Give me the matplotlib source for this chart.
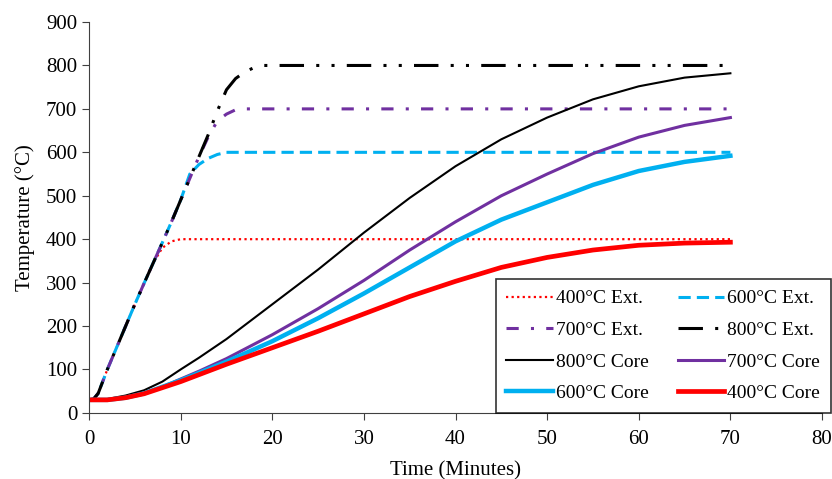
import matplotlib
matplotlib.use('Agg')
import matplotlib.pyplot as plt

# surface (Ext.) curves
t_ext = [0, 0.5, 1, 2, 3, 4, 5, 6, 7, 8, 9, 10, 11, 12, 13, 14, 15, 16, 17, 18, 19, 20, 70]
ext_400 = [30, 32, 45, 100, 150, 200, 250, 298, 345, 380, 395, 400, 400, 400, 400, 400, 400, 400, 400, 400, 400, 400, 400]
ext_600 = [30, 32, 45, 100, 150, 200, 250, 298, 345, 392, 440, 490, 550, 572, 586, 595, 600, 600, 600, 600, 600, 600, 600]
ext_700 = [30, 32, 45, 100, 150, 200, 250, 298, 345, 392, 440, 490, 540, 590, 635, 672, 688, 698, 700, 700, 700, 700, 700]
ext_800 = [30, 32, 45, 100, 150, 200, 250, 298, 345, 392, 440, 490, 540, 590, 640, 695, 744, 770, 785, 795, 800, 800, 800]

# core curves
t_core = [0, 2, 4, 6, 8, 10, 12, 15, 20, 25, 30, 35, 40, 45, 50, 55, 60, 65, 70]
core_800 = [30, 32, 40, 52, 72, 100, 127, 170, 250, 330, 415, 495, 568, 630, 680, 722, 752, 772, 782]
core_700 = [30, 30, 35, 45, 60, 78, 96, 125, 180, 240, 305, 375, 440, 500, 550, 597, 635, 662, 680]
core_600 = [30, 30, 35, 45, 60, 75, 92, 118, 165, 218, 275, 335, 395, 445, 485, 525, 557, 578, 592]
core_400 = [30, 30, 35, 44, 58, 72, 88, 112, 150, 188, 228, 268, 303, 335, 358, 375, 386, 391, 393]

red = '#ff0000'
blue = '#00b0f0'
purple = '#7030a0'
black = '#000000'

plt.rcParams['font.family'] = ['Liberation Serif', 'DejaVu Serif']

fig = plt.figure(figsize=(8.32, 4.79), dpi=100)
ax = fig.add_axes([0.107, 0.138, 0.881, 0.816])

l400e, = ax.plot(t_ext, ext_400, color=red, lw=1.6, linestyle=(0, (1, 1.5)), label='400°C Ext.')
l600e, = ax.plot(t_ext, ext_600, color=blue, lw=2.2, linestyle=(0, (4, 2)), label='600°C Ext.')
l700e, = ax.plot(t_ext, ext_700, color=purple, lw=2.2, linestyle=(0, (4, 4, 1, 4)), label='700°C Ext.')
l800e, = ax.plot(t_ext, ext_800, color=black, lw=2.2, linestyle=(0, (8, 4, 1, 4, 1, 4)), label='800°C Ext.')
l800c, = ax.plot(t_core, core_800, color=black, lw=1.5, label='800°C Core')
l700c, = ax.plot(t_core, core_700, color=purple, lw=2.2, label='700°C Core')
l600c, = ax.plot(t_core, core_600, color=blue, lw=3.2, label='600°C Core')
l400c, = ax.plot(t_core, core_400, color=red, lw=3.4, label='400°C Core')

ax.set_xlim(0, 80)
ax.set_ylim(0, 900)
ax.set_xticks(range(0, 81, 10))
ax.set_yticks(range(0, 901, 100))
ax.spines['top'].set_visible(False)
ax.spines['right'].set_visible(False)
ax.spines['left'].set_color('#404040')
ax.spines['bottom'].set_color('#404040')
ax.tick_params(labelsize=15, length=5, color='#404040')
ax.tick_params(axis='x', pad=7)
ax.set_xlabel('Time (Minutes)', fontsize=15, labelpad=9)
ax.set_ylabel('Temperature (°C)', fontsize=15, labelpad=8)

# row-major order like the original: matplotlib fills column by column
handles = [l400e, l700e, l800c, l600c, l600e, l800e, l700c, l400c]
leg = ax.legend(handles, [h.get_label() for h in handles], ncol=2, loc='lower right',
                bbox_to_anchor=(1.012, 0.0), fontsize=14,
                frameon=True, fancybox=False, edgecolor='black', handlelength=2.4,
                handletextpad=0.15, columnspacing=1.5, labelspacing=0.72, borderpad=0.55,
                borderaxespad=0.0)
leg.get_frame().set_linewidth(1.2)

fig.savefig('out.png', dpi=100)
